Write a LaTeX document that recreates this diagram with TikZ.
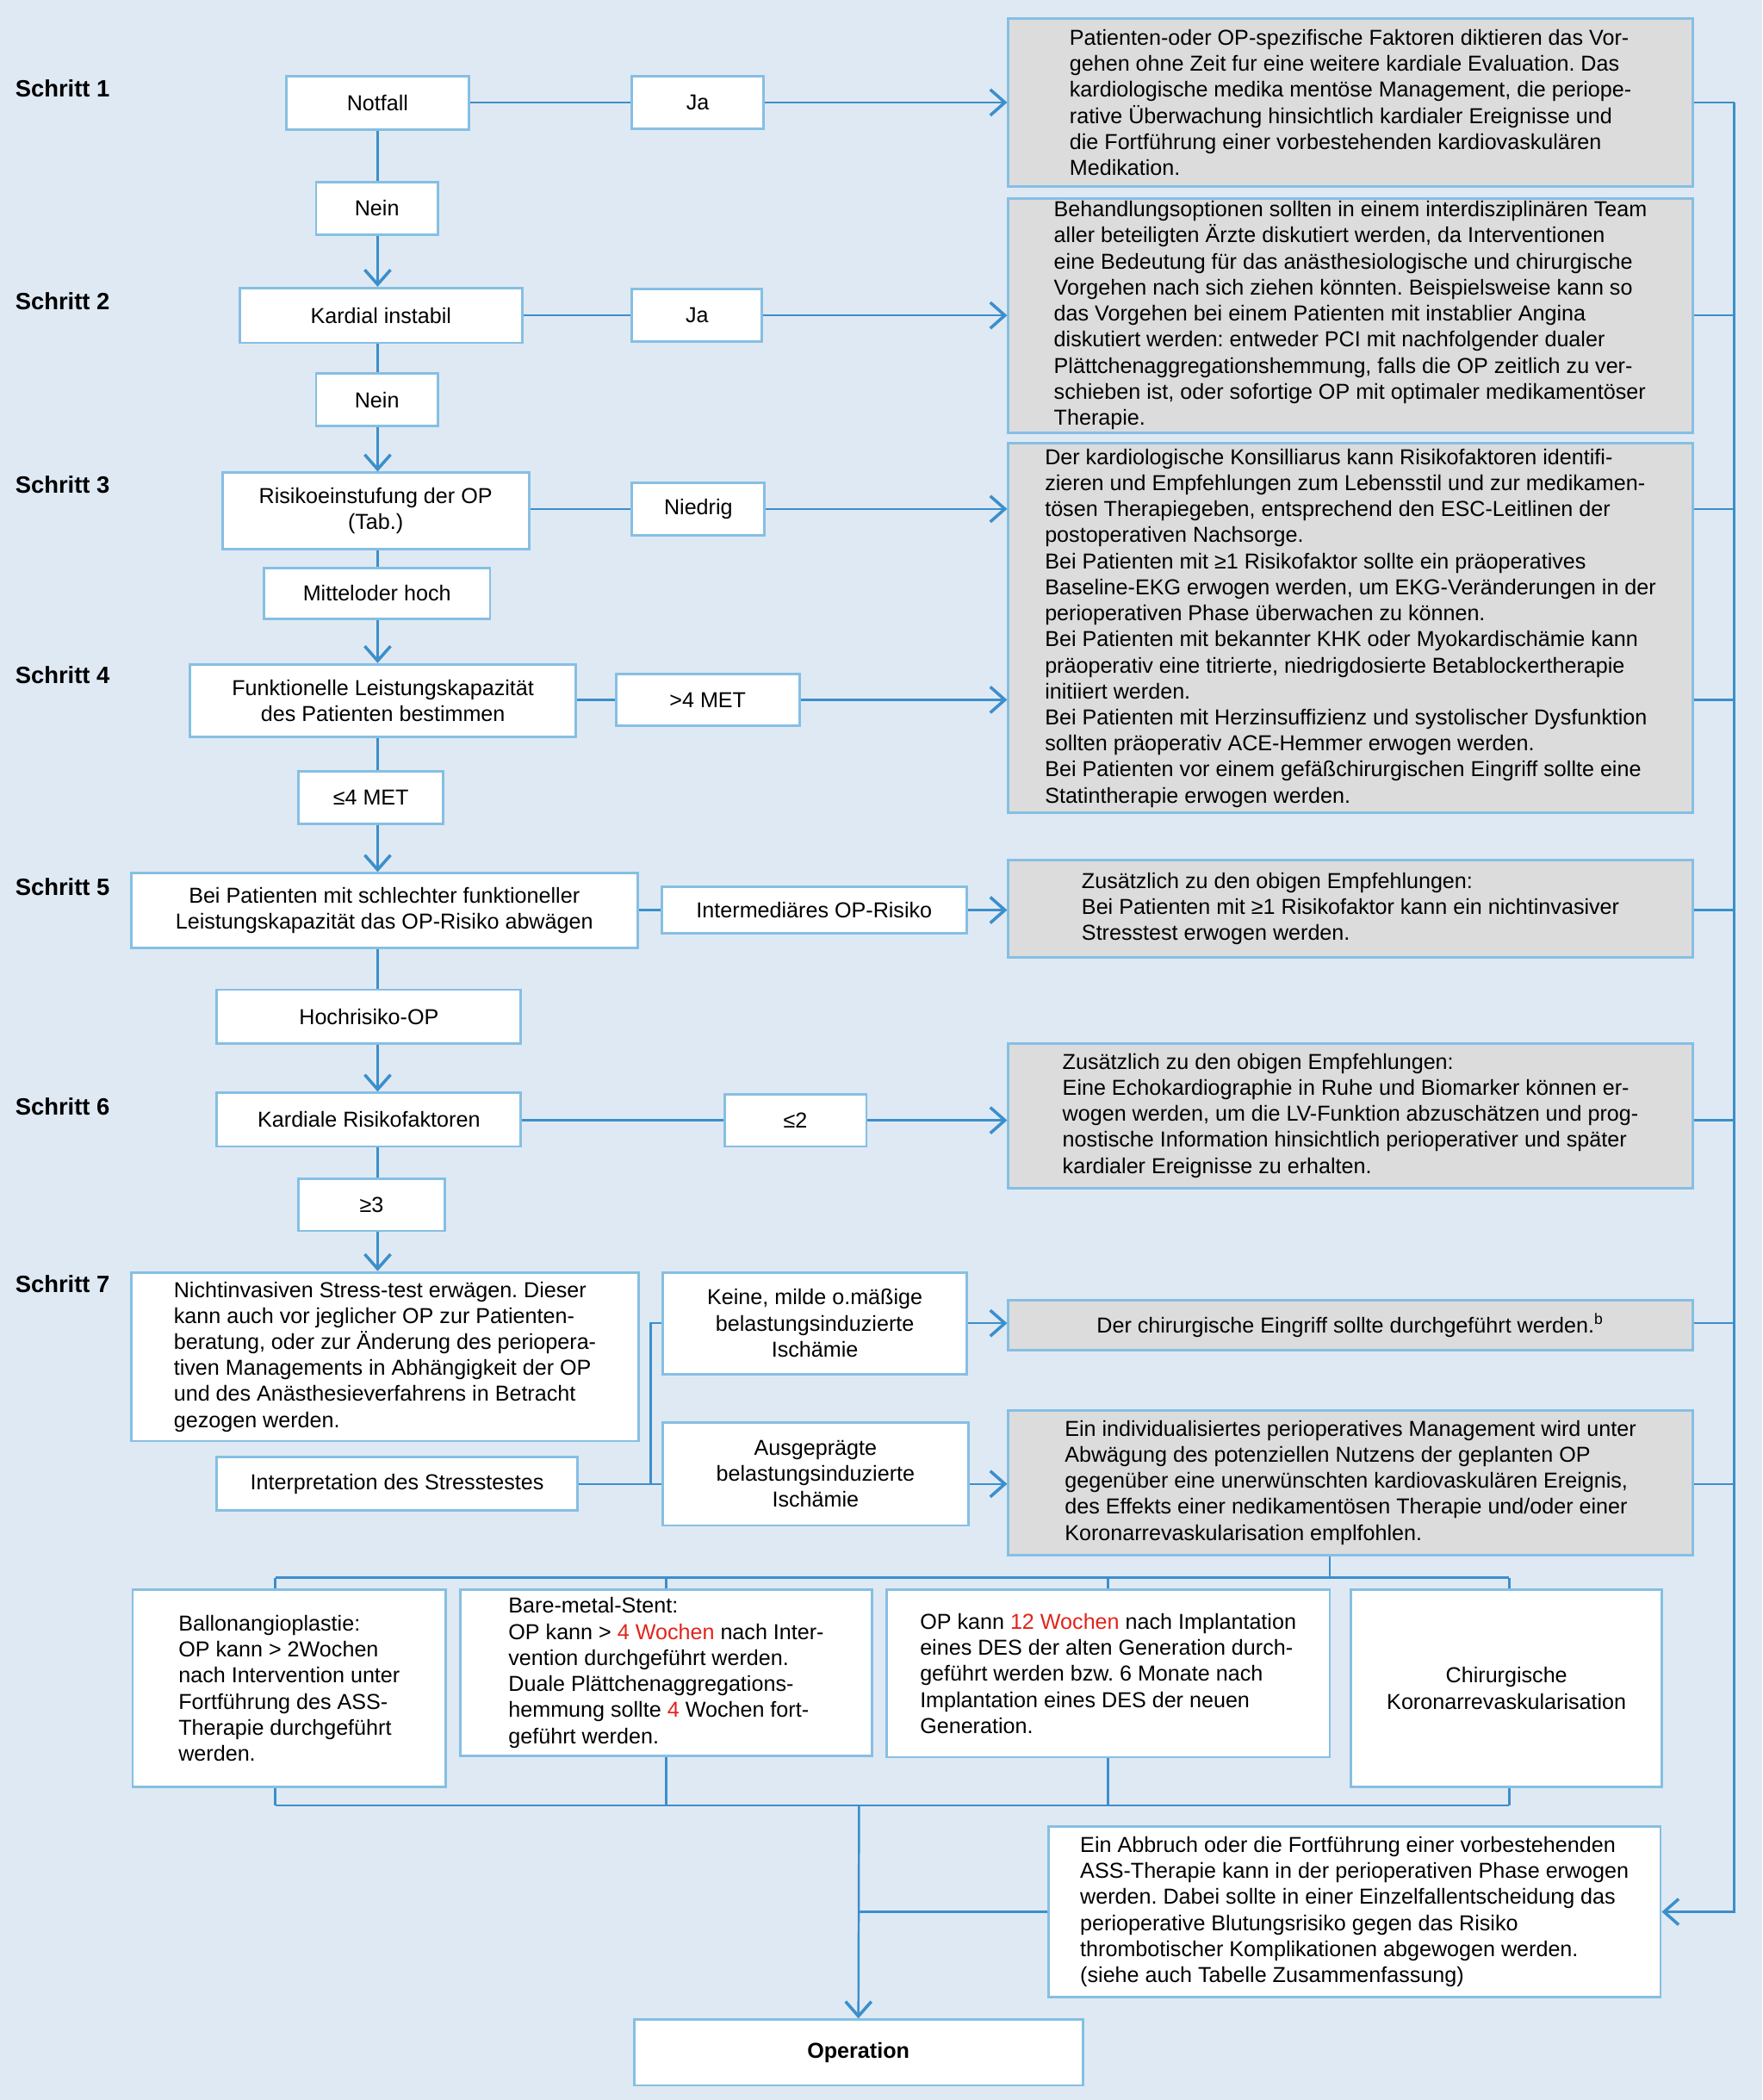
\documentclass[tikz,border=0pt]{standalone}
\usepackage{fontspec}
\setmainfont{Liberation Sans}
\usetikzlibrary{arrows.meta}
\definecolor{bgcol}{HTML}{DFE9F4}
\definecolor{framecol}{HTML}{86BFE3}
\definecolor{linkcol}{HTML}{3B8FCB}
\definecolor{greycol}{HTML}{DCDCDC}
\definecolor{redcol}{HTML}{E2231A}
\newcommand{\rd}[1]{\textcolor{redcol}{#1}}
\frenchspacing

\begin{document}
\begin{tikzpicture}[x=0.015547cm, y=-0.015547cm,
  every node/.style={font=\fontsize{7.15}{8.6}\selectfont, inner sep=0pt},
  wh/.style 2 args={minimum width=#1*0.015547cm, minimum height=#2*0.015547cm},
  wbox/.style={draw=framecol, line width=0.8pt, fill=white, align=center},
  gbox/.style={draw=framecol, line width=0.8pt, fill=greycol, align=left},
  steplabel/.style={anchor=west, font=\fontsize{7.8}{9}\selectfont\bfseries},
  link/.style={linkcol, line width=0.7pt},
  arr/.style={link, -{Straight Barb[length=1.7mm, width=3mm, line width=1pt]}}
]

% Background
\path[fill=bgcol, use as bounding box] (0,0) rectangle (1316,1568);

% --- Step labels ---
\foreach \n/\y in {1/66, 2/225, 3/362, 4/504, 5/662, 6/826, 7/959}
  \node[steplabel] (s\n) at (11,\y) {Schritt \n};

% --- Left column ---
\node[wbox, wh={136}{40}] (notfall) at (282,77) {Notfall};
\node[wbox, wh={91}{39}] (nein1) at (281.5,155.5) {Nein};
\node[wbox, wh={211}{41}] (kardial) at (284.5,235.5) {Kardial instabil};
\node[wbox, wh={91}{39}] (nein2) at (281.5,298.5) {Nein};
\node[wbox, wh={229}{57}] (risiko) at (280.5,381.5) {Risikoeinstufung der OP\\(Tab.)};
\node[wbox, wh={169}{38}] (mittel) at (281.5,443) {Mitteloder hoch};
\node[wbox, wh={288}{54}] (funkt) at (286,523) {Funktionelle Leistungskapazität\\des Patienten bestimmen};
\node[wbox, wh={108}{39}] (le4) at (277,595.5) {≤4 MET};
\node[wbox, wh={378}{56}] (bei) at (287,680) {Bei Patienten mit schlechter funktioneller\\Leistungskapazität das OP-Risiko abwägen};
\node[wbox, wh={227}{40}] (hoch) at (275.5,759) {Hochrisiko-OP};
\node[wbox, wh={227}{40}] (krf) at (275.5,836) {Kardiale Risikofaktoren};
\node[wbox, wh={109}{39}] (ge3) at (277.5,899.5) {≥3};
\node[wbox, align=left, wh={379}{126}] (stress) at (287.5,1013)
  {Nichtinvasiven Stress-test erwägen. Dieser\\
   kann auch vor jeglicher OP zur Patienten-\\
   beratung, oder zur Änderung des periopera-\\
   tiven Managements in Abhängigkeit der OP\\
   und des Anästhesieverfahrens in Betracht\\
   gezogen werden.};
\node[wbox, wh={269}{40}] (interp) at (296.5,1108) {Interpretation des Stresstestes};

% --- Middle labels ---
\node[wbox, wh={98}{39}] (ja1) at (521,76.5) {Ja};
\node[wbox, wh={97}{39}] (ja2) at (520.5,235.5) {Ja};
\node[wbox, wh={99}{39}] (niedrig) at (521.5,380) {Niedrig};
\node[wbox, wh={137}{39}] (mehr4) at (528.5,522.5) {>4 MET};
\node[wbox, wh={228}{35}] (inter) at (608,679.5) {Intermediäres OP-Risiko};
\node[wbox, wh={106}{39}] (le2) at (594,836.5) {≤2};
\node[wbox, wh={227}{76}] (keine) at (608.5,988) {Keine, milde o.mäßige\\belastungsinduzierte\\Ischämie};
\node[wbox, wh={228}{77}] (ausg) at (609,1100.5) {Ausgeprägte\\belastungsinduzierte\\Ischämie};

% --- Right column ---
\node[gbox, wh={511}{125}] (g1) at (1008.5,76.5)
  {Patienten-oder OP-spezifische Faktoren diktieren das Vor-\\
   gehen ohne Zeit fur eine weitere kardiale Evaluation. Das\\
   kardiologische medika mentöse Management, die periope-\\
   rative Überwachung hinsichtlich kardialer Ereignisse und\\
   die Fortführung einer vorbestehenden kardiovaskulären\\
   Medikation.};
\node[gbox, wh={511}{175}] (g2) at (1008.5,235.5)
  {Behandlungsoptionen sollten in einem interdisziplinären Team\\
   aller beteiligten Ärzte diskutiert werden, da Interventionen\\
   eine Bedeutung für das anästhesiologische und chirurgische\\
   Vorgehen nach sich ziehen könnten. Beispielsweise kann so\\
   das Vorgehen bei einem Patienten mit instablier Angina\\
   diskutiert werden: entweder PCI mit nachfolgender dualer\\
   Plättchenaggregationshemmung, falls die OP zeitlich zu ver-\\
   schieben ist, oder sofortige OP mit optimaler medikamentöser\\
   Therapie.};
\node[gbox, wh={511}{276}] (g3) at (1008.5,469)
  {Der kardiologische Konsilliarus kann Risikofaktoren identifi-\\
   zieren und Empfehlungen zum Lebensstil und zur medikamen-\\
   tösen Therapiegeben, entsprechend den ESC-Leitlinen der\\
   postoperativen Nachsorge.\\
   Bei Patienten mit ≥1 Risikofaktor sollte ein präoperatives\\
   Baseline-EKG erwogen werden, um EKG-Veränderungen in der\\
   perioperativen Phase überwachen zu können.\\
   Bei Patienten mit bekannter KHK oder Myokardischämie kann\\
   präoperativ eine titrierte, niedrigdosierte Betablockertherapie\\
   initiiert werden.\\
   Bei Patienten mit Herzinsuffizienz und systolischer Dysfunktion\\
   sollten präoperativ ACE-Hemmer erwogen werden.\\
   Bei Patienten vor einem gefäßchirurgischen Eingriff sollte eine\\
   Statintherapie erwogen werden.};
\node[gbox, wh={511}{73}] (g4) at (1008.5,678.5)
  {Zusätzlich zu den obigen Empfehlungen:\\
   Bei Patienten mit ≥1 Risikofaktor kann ein nichtinvasiver\\
   Stresstest erwogen werden.};
\node[gbox, wh={511}{108}] (g5) at (1008.5,833)
  {Zusätzlich zu den obigen Empfehlungen:\\
   Eine Echokardiographie in Ruhe und Biomarker können er-\\
   wogen werden, um die LV-Funktion abzuschätzen und prog-\\
   nostische Information hinsichtlich perioperativer und später\\
   kardialer Ereignisse zu erhalten.};
\node[gbox, wh={511}{37}] (g6) at (1008.5,989.5)
  {Der chirurgische Eingriff sollte durchgeführt werden.\textsuperscript{b}};
\node[gbox, wh={511}{108}] (g7) at (1008.5,1107)
  {Ein individualisiertes perioperatives Management wird unter\\
   Abwägung des potenziellen Nutzens der geplanten OP\\
   gegenüber eine unerwünschten kardiovaskulären Ereignis,\\
   des Effekts einer nedikamentösen Therapie und/oder einer\\
   Koronarrevaskularisation emplfohlen.};

% --- Bottom row ---
\node[wbox, align=left, wh={234}{147}] (b1) at (216,1260.5)
  {Ballonangioplastie:\\
   OP kann > 2Wochen\\
   nach Intervention unter\\
   Fortführung des ASS-\\
   Therapie durchgeführt\\
   werden.};
\node[wbox, align=left, wh={307}{124}] (b2) at (497.5,1249)
  {Bare-metal-Stent:\\
   OP kann > \rd{4 Wochen} nach Inter-\\
   vention durchgeführt werden.\\
   Duale Plättchenaggregations-\\
   hemmung sollte \rd{4} Wochen fort-\\
   geführt werden.};
\node[wbox, align=left, wh={331}{125}] (b3) at (827.5,1249.5)
  {OP kann \rd{12 Wochen} nach Implantation\\
   eines DES der alten Generation durch-\\
   geführt werden bzw. 6 Monate nach\\
   Implantation eines DES der neuen\\
   Generation.};
\node[wbox, wh={232}{147}] (b4) at (1125,1260.5) {Chirurgische\\Koronarrevaskularisation};
\node[wbox, align=left, wh={457}{127}] (abbruch) at (1011.5,1427.5)
  {Ein Abbruch oder die Fortführung einer vorbestehenden\\
   ASS-Therapie kann in der perioperativen Phase erwogen\\
   werden. Dabei sollte in einer Einzelfallentscheidung das\\
   perioperative Blutungsrisiko gegen das Risiko\\
   thrombotischer Komplikationen abgewogen werden.\\
   (siehe auch Tabelle Zusammenfassung)};
\node[wbox, wh={335}{49}, font=\fontsize{7.15}{8.6}\selectfont\bfseries] (op) at (641,1532.5) {Operation};

% Bus coordinates
\coordinate (bus) at (1295,0);
\coordinate (split) at (486,0);
\coordinate (tl) at (205.5,1178);
\coordinate (tr) at (1127,1178);
\coordinate (g7drop) at (993,1178);
\coordinate (bl) at (205.5,1348);
\coordinate (br) at (1127,1348);
\coordinate (mid) at (641.5,1348);

% Main column
\foreach \a/\b in {notfall/nein1, kardial/nein2, risiko/mittel, funkt/le4, bei/hoch, krf/ge3}
  \draw[link] (\a.south -| notfall) -- (\b.north -| notfall);
\foreach \a/\b in {nein1/kardial, nein2/risiko, mittel/funkt, le4/bei, hoch/krf, ge3/stress}
  \draw[arr] (\a.south -| notfall) -- (\b.north -| notfall);

% Branches to the right
\foreach \a/\b/\g in {notfall/ja1/g1, kardial/ja2/g2, risiko/niedrig/g3, funkt/mehr4/g3, bei/inter/g4, krf/le2/g5}{
  \draw[link] (\a.east |- \b) -- (\b.west);
  \draw[arr] (\b.east) -- (\b -| \g.west);
}

% Stress test outcomes
\draw[link] (interp.east) -- (interp -| split) |- (keine.west);
\draw[link] (interp -| split) -- (interp -| ausg.west);
\draw[arr] (keine.east) -- (keine -| g6.west);
\draw[arr] (ausg.east |- interp) -- (interp -| g7.west);

% Right bus
\foreach \g/\r in {g1/ja1, g2/ja2, g3/niedrig, g3/mehr4, g4/inter, g5/le2, g6/keine, g7/interp}
  \draw[link] (\g.east |- \r) -- (\r -| bus);
\draw[arr] (ja1 -| bus) -- (abbruch -| bus) -- (abbruch.east);

% Revascularisation options
\draw[link] (tl) -- (tr);
\draw[link] (g7drop) -- (g7drop |- g7.south);
\draw[link] (tl) -- (tl |- b1.north);
\draw[link] (b2.north |- tl) -- (b2.north);
\draw[link] (b3.north |- tl) -- (b3.north);
\draw[link] (tr) -- (tr |- b4.north);
\draw[link] (bl) -- (br);
\draw[link] (bl) -- (bl |- b1.south);
\draw[link] (b2.south) -- (b2.south |- bl);
\draw[link] (b3.south) -- (b3.south |- bl);
\draw[link] (br) -- (br |- b4.south);

% To the operation
\draw[link] (abbruch.west) -- (abbruch.west -| mid);
\draw[arr] (mid) -- (op.north);

\end{tikzpicture}
\end{document}
